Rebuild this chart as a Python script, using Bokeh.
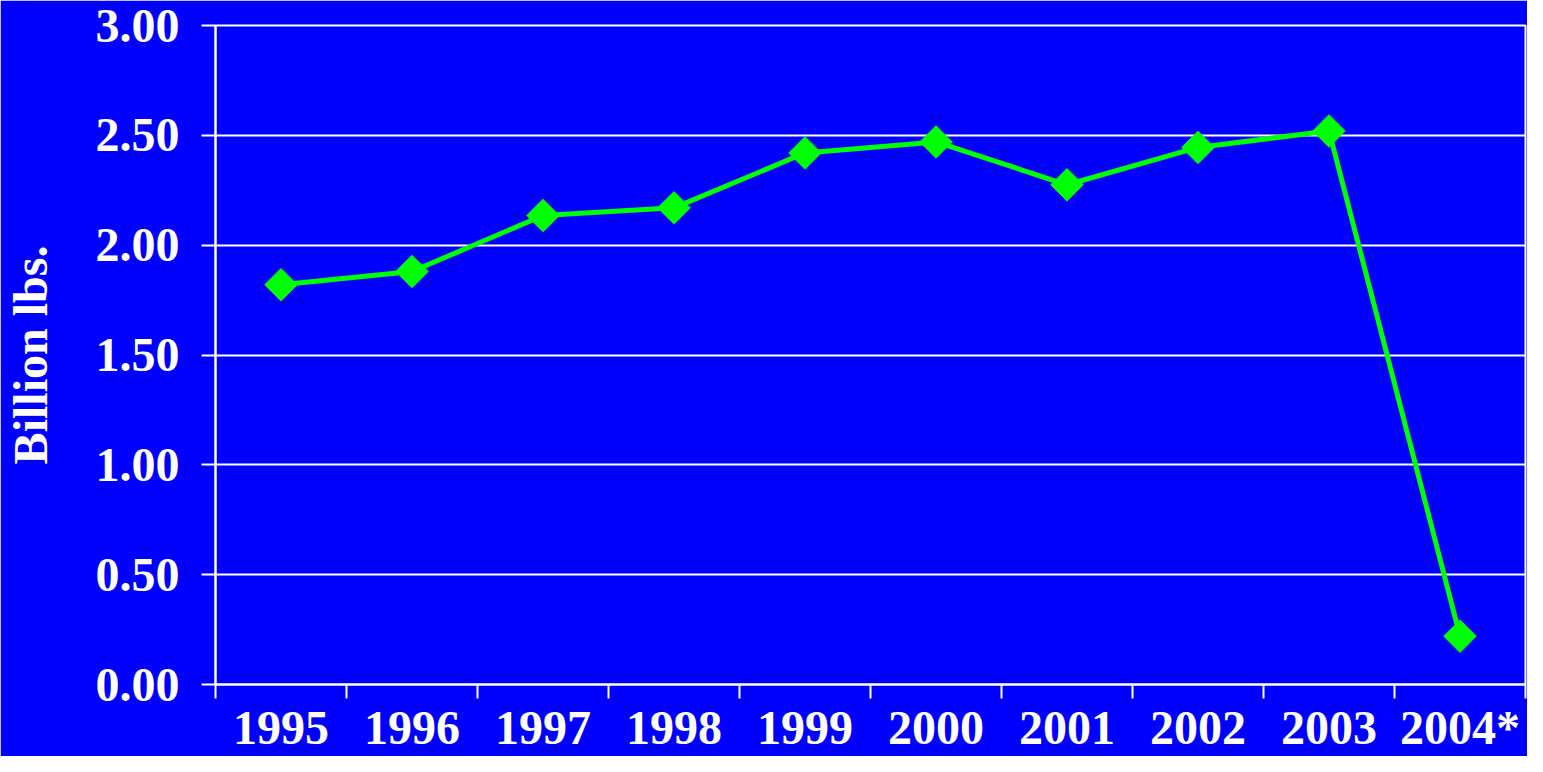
import numpy as np
from bokeh.plotting import figure
from bokeh.models import FixedTicker, Range1d, NumeralTickFormatter
from bokeh.embed import file_html
from bokeh.resources import INLINE

years = ["1995", "1996", "1997", "1998", "1999", "2000", "2001", "2002", "2003", "2004*"]
values = [1.82, 1.88, 2.135, 2.17, 2.42, 2.47, 2.275, 2.445, 2.52, 0.22]
y_ticks = [0.0, 0.5, 1.0, 1.5, 2.0, 2.5, 3.0]

BLUE = "#0000FF"
GREEN = "#00FF00"
FONT = "Liberation Serif"

n = len(years)
xs = [i + 0.5 for i in range(n)]

p = figure(width=1527, height=756, output_backend="svg", toolbar_location=None,
           x_range=Range1d(0, n), y_range=Range1d(0, 3.0),
           background_fill_color=BLUE, border_fill_color=BLUE,
           min_border_left=214, min_border_top=25, min_border_bottom=72, min_border_right=2)

p.outline_line_color = "white"
p.outline_line_width = 2

# x axis: labels at category centres, ticks at category boundaries
p.xaxis.ticker = FixedTicker(ticks=xs, minor_ticks=list(range(n + 1)))
p.xaxis.major_label_overrides = {x: y for x, y in zip(xs, years)}
p.xaxis.major_tick_out = 0
p.xaxis.major_tick_in = 0
p.xaxis.minor_tick_out = 14
p.xaxis.minor_tick_in = 0
p.xaxis.minor_tick_line_color = "white"
p.xaxis.minor_tick_line_width = 2
p.xaxis.major_label_standoff = 2
p.xgrid.grid_line_color = None

# y axis
p.yaxis.ticker = FixedTicker(ticks=y_ticks)
p.yaxis.formatter = NumeralTickFormatter(format="0.00")
p.yaxis.major_tick_out = 14
p.yaxis.major_tick_in = 0
p.yaxis.minor_tick_line_color = None
p.yaxis.major_label_standoff = 22
p.yaxis.axis_label = "Billion lbs."
p.yaxis.axis_label_standoff = 36
p.ygrid.grid_line_color = "white"
p.ygrid.grid_line_width = 2

for ax in (p.xaxis, p.yaxis):
    ax.axis_line_color = "white"
    ax.axis_line_width = 2
    ax.major_tick_line_color = "white"
    ax.major_tick_line_width = 2
    ax.major_label_text_color = "white"
    ax.major_label_text_font = FONT
    ax.major_label_text_font_style = "bold"
    ax.major_label_text_font_size = "48px"
    ax.axis_label_text_color = "white"
    ax.axis_label_text_font = FONT
    ax.axis_label_text_font_style = "bold"
    ax.axis_label_text_font_size = "48px"

p.line(xs, values, line_color=GREEN, line_width=5)
p.scatter(xs, values, marker="square", size=23, angle=np.pi / 4,
          fill_color=GREEN, line_color=GREEN)

open("out.html", "w").write(file_html(p, INLINE))
